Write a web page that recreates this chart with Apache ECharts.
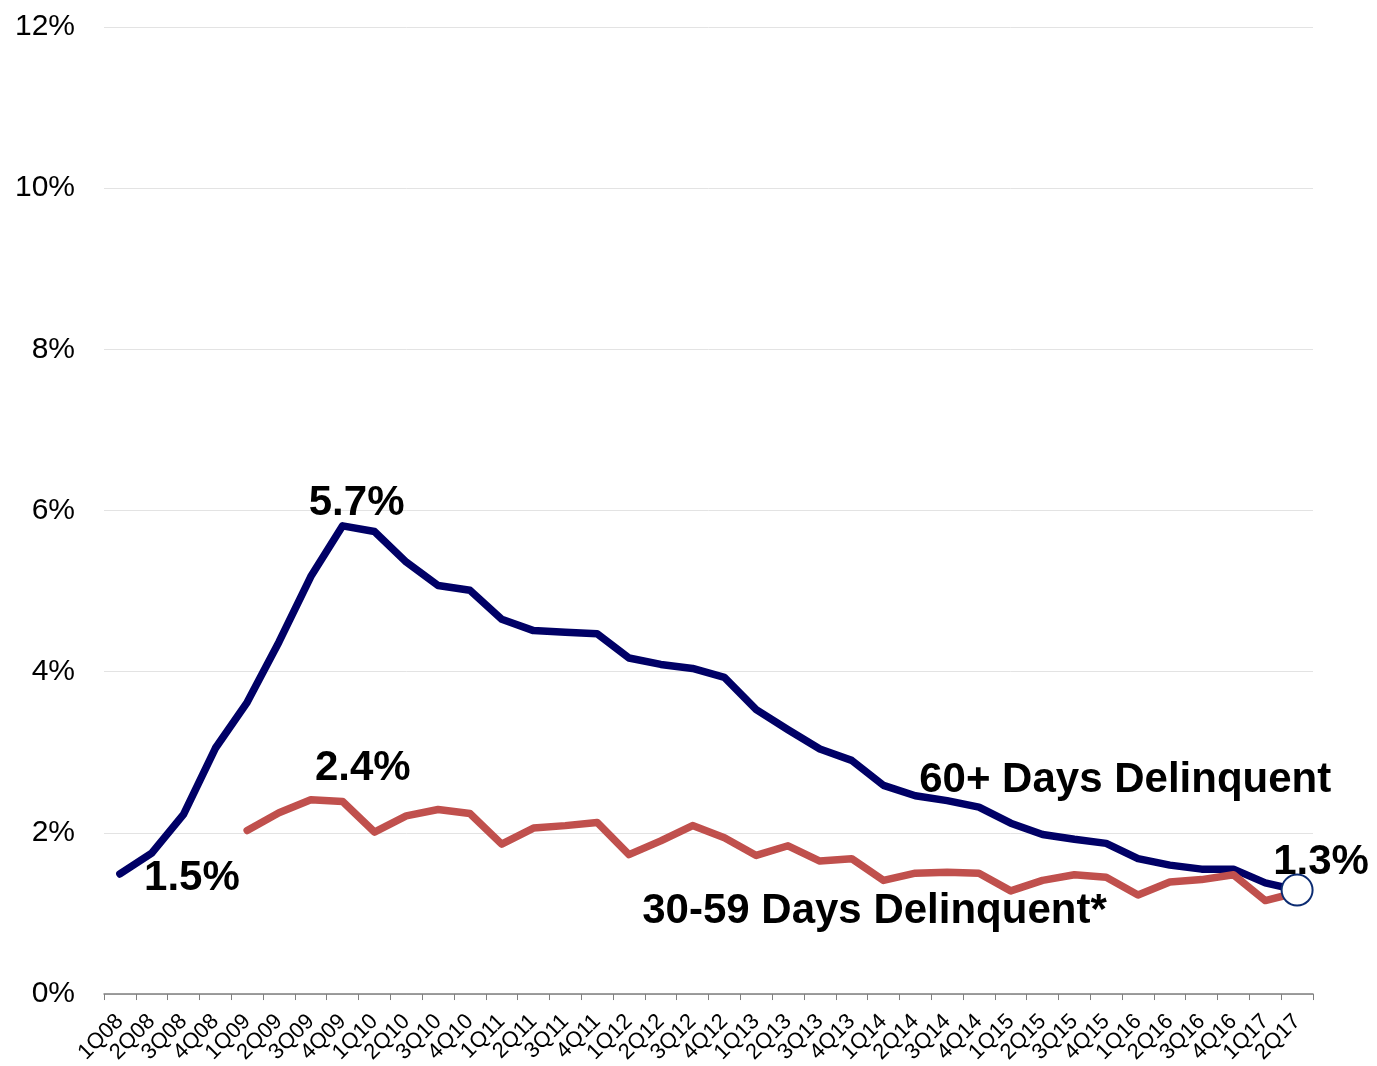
<!DOCTYPE html>
<html>
<head>
<meta charset="utf-8">
<script src="https://cdn.jsdelivr.net/npm/echarts@6/dist/echarts.min.js"></script>
<style>
  html, body { margin: 0; padding: 0; background: #fff; }
  #chart { width: 1377px; height: 1066px; }
</style>
</head>
<body>
<div id="chart"></div>
<script>
  // quarters on the x axis
  var quarters = [
    '1Q08', '2Q08', '3Q08', '4Q08', '1Q09', '2Q09', '3Q09', '4Q09',
    '1Q10', '2Q10', '3Q10', '4Q10', '1Q11', '2Q11', '3Q11', '4Q11',
    '1Q12', '2Q12', '3Q12', '4Q12', '1Q13', '2Q13', '3Q13', '4Q13',
    '1Q14', '2Q14', '3Q14', '4Q14', '1Q15', '2Q15', '3Q15', '4Q15',
    '1Q16', '2Q16', '3Q16', '4Q16', '1Q17', '2Q17'
  ]

  // 60+ days delinquent, %
  var days60 = [
    1.49, 1.75, 2.23, 3.05, 3.62, 4.37, 5.18, 5.81,
    5.74, 5.36, 5.07, 5.01, 4.65, 4.51, 4.49, 4.47,
    4.17, 4.09, 4.04, 3.93, 3.53, 3.28, 3.04, 2.90,
    2.59, 2.46, 2.40, 2.32, 2.12, 1.98, 1.92, 1.87,
    1.68, 1.60, 1.55, 1.55, 1.38, 1.29
  ]

  // 30-59 days delinquent, %, series starts at 1Q09
  var days30 = [
    '-', '-', '-', '-', 2.03, 2.25, 2.41, 2.39,
    2.01, 2.21, 2.29, 2.24, 1.86, 2.06, 2.09, 2.13,
    1.73, 1.90, 2.09, 1.94, 1.72, 1.84, 1.65, 1.68,
    1.41, 1.50, 1.51, 1.50, 1.28, 1.41, 1.48, 1.45,
    1.23, 1.39, 1.42, 1.48, 1.16, 1.26
  ]

  var yTicks = [0, 2, 4, 6, 8, 10, 12]

  var navy = '#000066'
  var red = '#c0504d'
  var font = '"Liberation Sans", Arial, sans-serif'

  // text note tied to a data point
  function note(text, idx, values, offset) {
    return {
      coord: [quarters[idx], values[idx]],
      symbol: 'circle',
      symbolSize: 0,
      label: {
        show: true,
        position: 'inside',
        formatter: text,
        offset: offset,
        color: '#000',
        fontFamily: font,
        fontWeight: 'bold',
        fontSize: 42
      }
    }
  }

  var chart = echarts.init(document.getElementById('chart'))

  chart.setOption({
    animation: false,
    grid: {
      left: 104,
      right: 64,
      top: 27,
      bottom: 71,
      containLabel: false
    },
    xAxis: {
      type: 'category',
      boundaryGap: true,
      data: quarters,
      axisLine: {lineStyle: {color: '#7f7f7f', width: 1.5}},
      axisTick: {show: true, length: 6, interval: 0, lineStyle: {color: '#7f7f7f'}},
      axisLabel: {
        interval: 0,
        rotate: 45,
        margin: 24,
        color: '#000',
        fontFamily: font,
        fontSize: 22
      },
      splitLine: {show: false}
    },
    yAxis: {
      type: 'value',
      min: yTicks[0],
      max: yTicks[yTicks.length - 1],
      interval: 2,
      axisLine: {show: false},
      axisTick: {show: false},
      axisLabel: {
        margin: 29,
        color: '#000',
        fontFamily: font,
        fontSize: 30,
        formatter: '{value}%'
      },
      splitLine: {lineStyle: {color: '#e3e3e3', width: 1}}
    },
    series: [
      {
        name: '60+ Days Delinquent',
        type: 'line',
        data: days60,
        showSymbol: false,
        lineStyle: {color: navy, width: 7.5, cap: 'round', join: 'round'},
        itemStyle: {color: navy},
        z: 2,
        markPoint: {
          z: 5,
          data: [
            note('1.5%', 0, days60, [72, 4]),
            note('5.7%', 7, days60, [14, -22]),
            note('60+ Days Delinquent', 31, days60, [19, -63]),
            note('1.3%', 37, days60, [24, -28]),
            {
              coord: [quarters[37], days60[37]],
              symbol: 'circle',
              symbolSize: 31,
              itemStyle: {color: '#fff', borderColor: '#0c2c72', borderWidth: 2},
              label: {show: false}
            }
          ]
        }
      },
      {
        name: '30-59 Days Delinquent*',
        type: 'line',
        data: days30,
        showSymbol: false,
        lineStyle: {color: red, width: 7.5, cap: 'round', join: 'round'},
        itemStyle: {color: red},
        z: 3,
        markPoint: {
          z: 4,
          data: [
            note('2.4%', 6, days30, [52, -31]),
            note('30-59 Days Delinquent*', 24, days30, [-9, 31])
          ]
        }
      }
    ]
  })
</script>
</body>
</html>
